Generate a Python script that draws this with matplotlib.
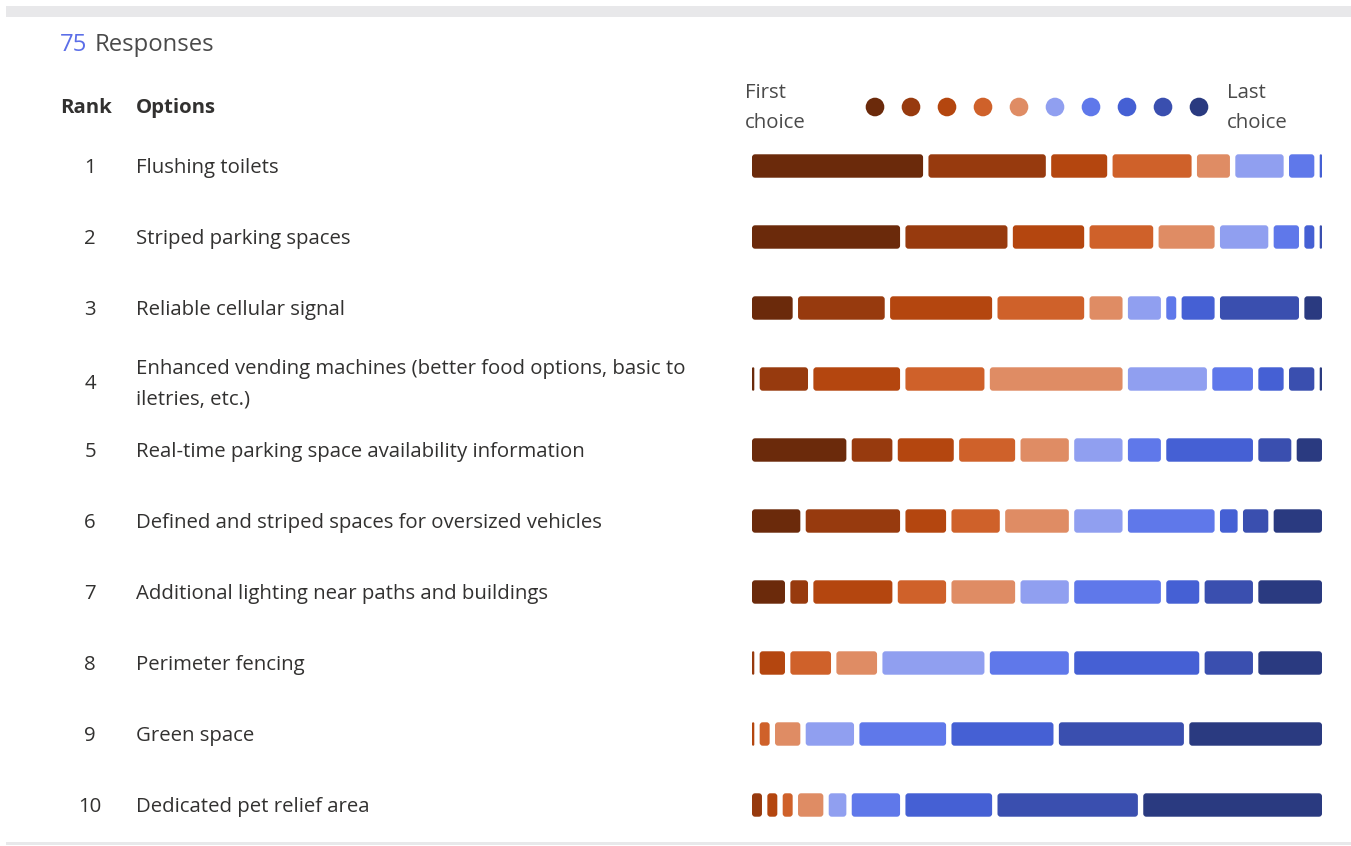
import matplotlib
matplotlib.use("Agg")
import matplotlib.pyplot as plt
from matplotlib.patches import FancyBboxPatch
import numpy as np

plt.rcParams['font.family'] = ['Open Sans', 'Noto Sans', 'DejaVu Sans']

total_responses = 75
ranks = [1, 2, 3, 4, 5, 6, 7, 8, 9, 10]
options = [
    "Flushing toilets",
    "Striped parking spaces",
    "Reliable cellular signal",
    "Enhanced vending machines (better food options, basic to\niletries, etc.)",
    "Real-time parking space availability information",
    "Defined and striped spaces for oversized vehicles",
    "Additional lighting near paths and buildings",
    "Perimeter fencing",
    "Green space",
    "Dedicated pet relief area",
]
# counts per choice position (first choice ... last choice) for each option
counts = [
    [23, 16, 8, 11, 5, 7, 4, 1, 0, 0],
    [20, 14, 10, 9, 8, 7, 4, 2, 1, 0],
    [6, 12, 14, 12, 5, 5, 2, 5, 11, 3],
    [1, 7, 12, 11, 18, 11, 6, 4, 4, 1],
    [13, 6, 8, 8, 7, 7, 5, 12, 5, 4],
    [7, 13, 6, 7, 9, 7, 12, 3, 4, 7],
    [5, 3, 11, 7, 9, 7, 12, 5, 7, 9],
    [0, 1, 4, 6, 6, 14, 11, 17, 7, 9],
    [0, 0, 1, 2, 4, 7, 12, 14, 17, 18],
    [0, 2, 2, 2, 4, 3, 7, 12, 19, 24],
]
choice_colors = ["#6B2A0B", "#973A0E", "#B4460F", "#CF612A", "#DF8C64",
                 "#909FF0", "#5F78EA", "#4560D4", "#3A4FAF", "#2A3A80"]

W, H = 1351, 846
fig = plt.figure(figsize=(W / 100, H / 100), dpi=100)
fig.patch.set_facecolor("white")

# overlay axes in pixel coordinates for text & decorations
ov = fig.add_axes([0, 0, 1, 1])
ov.set_xlim(0, W)
ov.set_ylim(H, 0)
ov.axis("off")

# top grey band and bottom line
ov.axhspan(6, 17, xmin=6 / W, xmax=1, color="#E8E8EA", lw=0)
ov.axhspan(842.5, 845, xmin=6 / W, xmax=1, color="#E8E8EA", lw=0)

txt = "#323130"
fs = 14.7
t1 = ov.text(60, 45, "75", fontsize=17.2, color="#5B6EE8", va="center", ha="left")
fig.canvas.draw()
bb = t1.get_window_extent()
ov.text(bb.x1 + 7, 45, "Responses", fontsize=17.2, color="#4A4A4A", va="center", ha="left")

ov.text(60, 108, "Rank", fontsize=fs, fontweight="bold", color=txt, va="center", ha="left")
ov.text(136, 108, "Options", fontsize=fs, fontweight="bold", color=txt, va="center", ha="left")

row_y0, row_dy = 167, 71.0
for i, (r, opt) in enumerate(zip(ranks, options)):
    y = row_y0 + i * row_dy + (3 if "\n" in opt else 0)
    ov.text(90, y + 1, str(r), fontsize=fs, color=txt, va="center", ha="center")
    ov.text(136, y + 1, opt, fontsize=fs, color=txt, va="center", ha="left", linespacing=1.7)

# legend
ov.text(745, 108, "First\nchoice", fontsize=fs, color="#4A4A4A", va="center", ha="left", linespacing=1.7)
ov.text(1227, 108, "Last\nchoice", fontsize=fs, color="#4A4A4A", va="center", ha="left", linespacing=1.7)
dot_x = 875 + 36 * np.arange(len(choice_colors))
ov.scatter(dot_x, np.full(len(choice_colors), 107), s=180, c=choice_colors, linewidths=0)

# bars axes
gap = 0.7
x0_px, x1_px = 752, 1322
top_px = 166 - row_dy / 2
bot_px = 166 + (len(options) - 0.5) * row_dy
bx = fig.add_axes([x0_px / W, 1 - bot_px / H, (x1_px - x0_px) / W, (bot_px - top_px) / H])
bx.set_xlim(gap / 2, total_responses - gap / 2)
bx.set_ylim(len(options) - 0.5, -0.5)
bx.axis("off")

px_per_x = (x1_px - x0_px) / (total_responses - gap)
px_per_y = row_dy
aspect = px_per_x / px_per_y

cnt = np.array(counts, dtype=float)
lefts = np.cumsum(cnt, axis=1) - cnt
ypos = np.arange(len(options))
for k in range(cnt.shape[1]):
    m = cnt[:, k] > 0
    bars = bx.barh(ypos[m], cnt[m, k] - gap, left=lefts[m, k] + gap / 2, height=0.33,
                   color=choice_colors[k], linewidth=0)
    for p in bars:
        x, y, w, h = p.get_x(), p.get_y(), p.get_width(), p.get_height()
        r = min(0.4, w / 2)
        p.set_visible(False)
        bx.add_patch(FancyBboxPatch((x, y), w, h,
                                    boxstyle=f"round,pad=0,rounding_size={r}",
                                    mutation_aspect=aspect,
                                    facecolor=choice_colors[k], edgecolor="none"))

fig.savefig("out.png", dpi=100, facecolor="white")
